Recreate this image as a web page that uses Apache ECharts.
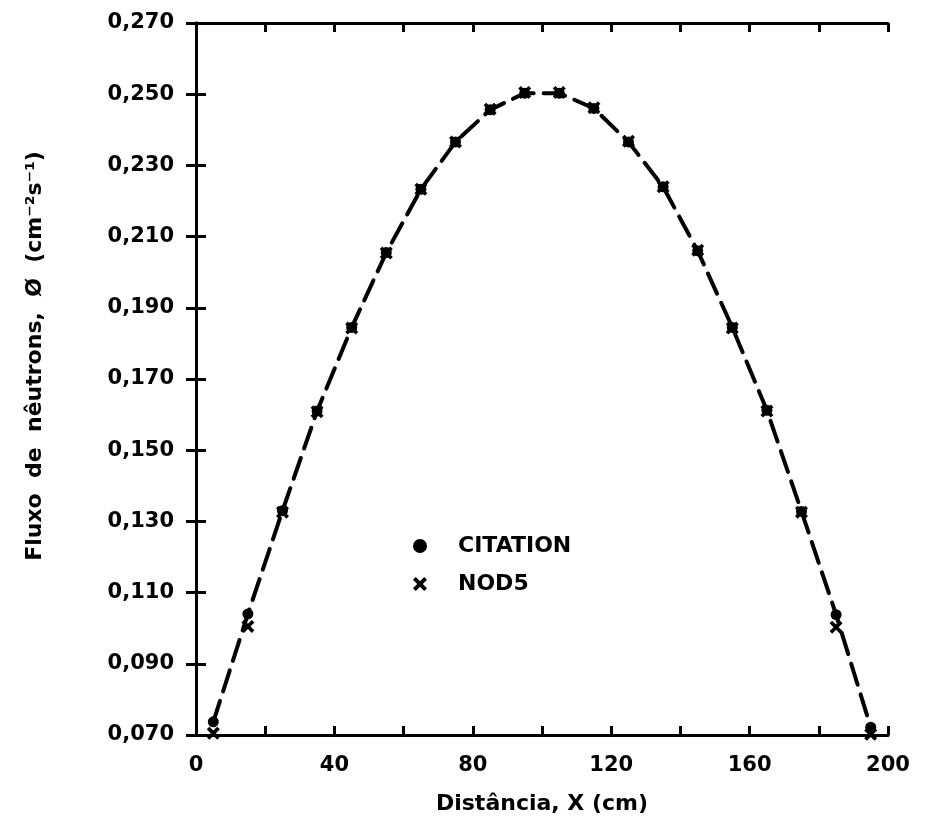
<!DOCTYPE html>
<html>
<head>
<meta charset="utf-8">
<script src="https://cdn.jsdelivr.net/npm/echarts@6/dist/echarts.min.js"></script>
<style>
  html, body { margin: 0; padding: 0; background: #fff; }
  #chart { width: 928px; height: 826px; }
</style>
</head>
<body>
<div id="chart"></div>
<script>
// distancia (cm) dos pontos
var distancias = [5, 15, 25, 35, 45, 55, 65, 75, 85, 95, 105, 115, 125, 135, 145, 155, 165, 175, 185, 195];
// fluxo CITATION
var fluxoCitation = [0.0737, 0.1040, 0.1330, 0.1610, 0.1845, 0.2055, 0.2233, 0.2366, 0.2456, 0.2503,
                     0.2503, 0.2460, 0.2366, 0.2240, 0.2060, 0.1845, 0.1612, 0.1328, 0.1038, 0.0722];
// fluxo NOD5
var fluxoNod5 = [0.0705, 0.1005, 0.1326, 0.1608, 0.1843, 0.2054, 0.2233, 0.2366, 0.2458, 0.2505,
                 0.2505, 0.2462, 0.2368, 0.2240, 0.2062, 0.1843, 0.1610, 0.1326, 0.1003, 0.0702];
var yTicks = [0.070, 0.090, 0.110, 0.130, 0.150, 0.170, 0.190, 0.210, 0.230, 0.250, 0.270];
var xLabels = [0, 40, 80, 120, 160, 200];

var fonte = 'DejaVu Sans';
var xPath = 'path://M0,2L2,0L5,3L8,0L10,2L7,5L10,8L8,10L5,7L2,10L0,8L3,5Z';

function pares(xs, ys) {
    var out = [];
    for (var i = 0; i < xs.length; i++) {
        out.push([xs[i], ys[i]]);
    }
    return out;
}

var chart = echarts.init(document.getElementById('chart'));

var eixoX = {
    type: 'value',
    min: 0,
    max: 200,
    interval: 20,
    axisLine: { lineStyle: { color: '#000', width: 3 } },
    axisTick: { inside: true, length: 9, lineStyle: { color: '#000', width: 3 } },
    splitLine: { show: false }
};
var eixoY = {
    type: 'value',
    min: yTicks[0],
    max: yTicks[yTicks.length - 1],
    interval: 0.02,
    axisLine: { lineStyle: { color: '#000', width: 3 } },
    axisTick: { inside: true, length: 10, lineStyle: { color: '#000', width: 3 } },
    splitLine: { show: false }
};

var option = {
    backgroundColor: '#fff',
    animation: false,
    grid: { left: 196, right: 40, top: 23, bottom: 91, containLabel: false },
    legend: {
        orient: 'vertical',
        left: 408,
        top: 530,
        itemGap: 16,
        itemWidth: 14,
        itemHeight: 14,
        data: [
            { name: 'CITATION', icon: 'circle', itemStyle: { color: '#000' } },
            { name: 'NOD5', icon: xPath, itemStyle: { color: '#000' } }
        ],
        textStyle: {
            fontFamily: fonte,
            fontWeight: 'bold',
            fontSize: 22,
            color: '#000',
            padding: [0, 0, 0, 26]
        }
    },
    xAxis: [
        Object.assign({}, eixoX, {
            position: 'bottom',
            name: 'Distância, X (cm)',
            nameLocation: 'middle',
            nameGap: 58,
            nameTextStyle: { fontFamily: fonte, fontWeight: 'bold', fontSize: 22, color: '#000' },
            axisLabel: {
                margin: 20,
                fontFamily: fonte,
                fontWeight: 'bold',
                fontSize: 21,
                color: '#000',
                formatter: function (v) {
                    return xLabels.indexOf(Math.round(v)) >= 0 ? String(Math.round(v)) : '';
                }
            }
        }),
        Object.assign({}, eixoX, { position: 'top', axisLabel: { show: false } })
    ],
    yAxis: [
        Object.assign({}, eixoY, {
            position: 'left',
            name: 'Fluxo  de  nêutrons,  Ø  (cm⁻²s⁻¹)',
            nameLocation: 'middle',
            nameGap: 150,
            nameTextStyle: {
                fontFamily: fonte, fontWeight: 'bold', fontSize: 22, color: '#000',
                padding: [0, 0, 0, 46]
            },
            axisLabel: {
                margin: 22,
                fontFamily: fonte,
                fontWeight: 'bold',
                fontSize: 21,
                color: '#000',
                formatter: function (v) {
                    return v.toFixed(3).replace('.', ',');
                }
            }
        }),
        Object.assign({}, eixoY, { position: 'right', axisLabel: { show: false } })
    ],
    series: [
        {
            name: 'curva',
            type: 'line',
            smooth: false,
            showSymbol: false,
            silent: true,
            data: pares(distancias, fluxoCitation),
            lineStyle: { color: '#000', width: 4, type: [22, 10], cap: 'round' },
            z: 1
        },
        {
            name: 'CITATION',
            type: 'scatter',
            symbol: 'circle',
            symbolSize: 11,
            itemStyle: { color: '#000', opacity: 1 },
            data: pares(distancias, fluxoCitation),
            z: 3
        },
        {
            name: 'NOD5',
            type: 'scatter',
            symbol: xPath,
            symbolSize: 13,
            itemStyle: { color: '#000', opacity: 1 },
            data: pares(distancias, fluxoNod5),
            z: 3
        }
    ]
};
chart.setOption(option);
</script>
</body>
</html>
